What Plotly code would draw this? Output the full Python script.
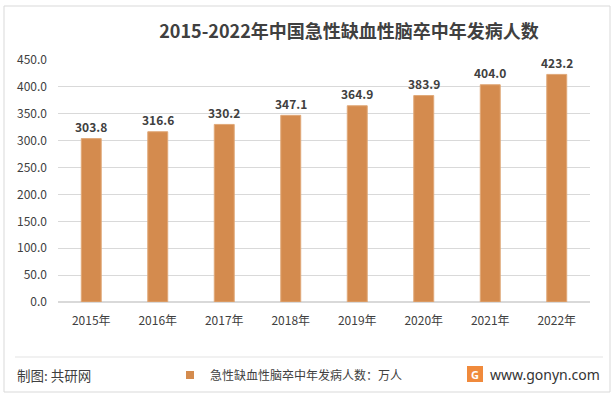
import plotly.graph_objects as go

years = ["2015年", "2016年", "2017年", "2018年", "2019年", "2020年", "2021年", "2022年"]
values = [303.8, 316.6, 330.2, 347.1, 364.9, 383.9, 404.0, 423.2]
y_ticks = [0, 50, 100, 150, 200, 250, 300, 350, 400, 450]
series_name = "急性缺血性脑卒中年发病人数：万人"
title_text = "2015-2022年中国急性缺血性脑卒中年发病人数"

W, H = 614, 396
L, R, T, B = 58, 590, 60, 302
pw, ph = R - L, B - T

def px(x):
    return (x - L) / pw

def py(y):
    return (B - y) / ph

FONT = "Noto Sans CJK SC"
BAR = "#D48B4E"

fig = go.Figure()
fig.add_trace(go.Bar(
    x=years, y=values, name=series_name, showlegend=False,
    marker=dict(color=BAR, line=dict(width=1, color="#E0A878")),
    width=0.3,
    cliponaxis=False,
))
# legend entry (small square marker, like the reference)
fig.add_trace(go.Scatter(
    x=[None], y=[None], mode="markers", name=series_name,
    marker=dict(symbol="square", size=8, color=BAR), showlegend=True,
))

shapes = [
    dict(type="rect", xref="paper", yref="paper",
         x0=px(4), x1=px(610), y0=py(392), y1=py(6),
         line=dict(color="#D9D9D9", width=1), fillcolor="rgba(0,0,0,0)", layer="below"),
    dict(type="line", xref="paper", yref="paper",
         x0=px(15), x1=px(603), y0=py(357), y1=py(357),
         line=dict(color="#E3E3E3", width=1)),
    dict(type="rect", xref="paper", yref="paper",
         x0=px(467), x1=px(483), y0=py(382), y1=py(366),
         line=dict(width=0), fillcolor="#F08A3C"),
]

annotations = [
    dict(text=f"<b>{v:.1f}</b>", x=c, y=v, xref="x", yref="y",
         yshift=12, yanchor="middle", showarrow=False,
         font=dict(family=FONT, size=12, color="#404040"))
    for c, v in zip(years, values)
] + [
    dict(text="制图: 共研网", xref="paper", yref="paper", x=px(15), y=py(375),
         xanchor="left", yanchor="middle", showarrow=False,
         font=dict(family=FONT, size=13.5, color="#404040")),
    dict(text="www.gonyn.com", xref="paper", yref="paper", x=px(488), y=py(374),
         xanchor="left", yanchor="middle", showarrow=False,
         font=dict(family="Noto Sans", size=14, color="#333333")),
    dict(text="<b>G</b>", xref="paper", yref="paper", x=px(475), y=py(374),
         xanchor="center", yanchor="middle", showarrow=False,
         font=dict(family="Noto Sans", size=11, color="#FFFFFF")),
]

fig.update_layout(
    width=W, height=H,
    margin=dict(l=L, r=W - R, t=T, b=H - B, autoexpand=False),
    paper_bgcolor="white", plot_bgcolor="white",
    title=dict(text=f"<b>{title_text}</b>", x=349 / W, xanchor="center",
               y=1 - 32 / H, yanchor="middle",
               font=dict(family=FONT, size=18, color="#404040")),
    showlegend=True,
    legend=dict(orientation="h", x=px(170), y=py(375), xanchor="left", yanchor="middle",
                font=dict(family=FONT, size=12, color="#404040"),
                itemwidth=30, bgcolor="rgba(0,0,0,0)"),
    xaxis=dict(showgrid=False, showline=False, ticks="", ticklabelstandoff=10,
               tickfont=dict(family=FONT, size=12, color="#404040")),
    yaxis=dict(range=[0, 450], tickvals=y_ticks,
               ticktext=[f"{v:.1f}" for v in y_ticks],
               showgrid=True, gridcolor="#D9D9D9", gridwidth=1,
               zeroline=True, zerolinecolor="#D9D9D9", showline=False, ticks="",
               ticklabelstandoff=10,
               tickfont=dict(family=FONT, size=12, color="#404040")),
    shapes=shapes,
    annotations=annotations,
)

fig.write_html("out.html", config={"displayModeBar": False},
               post_script="document.body.style.margin='0';")
